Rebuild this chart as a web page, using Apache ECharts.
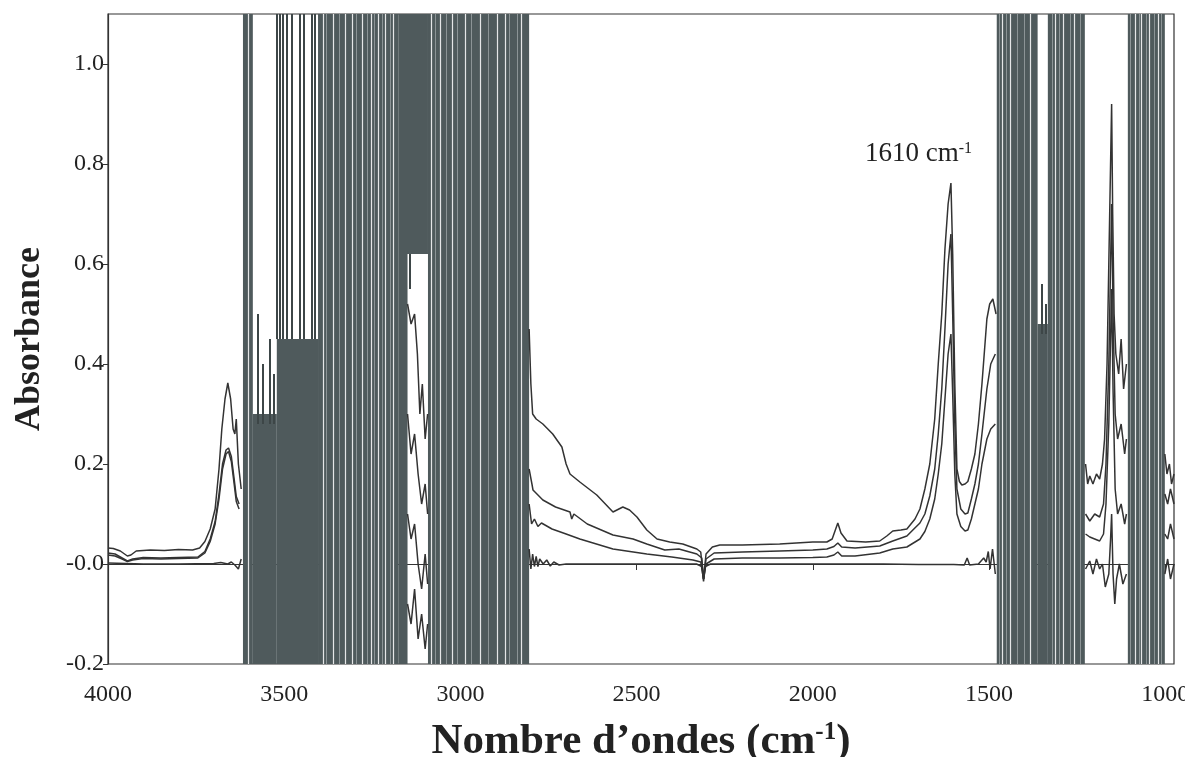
<!DOCTYPE html>
<html>
<head>
<meta charset="utf-8">
<script src="https://cdn.jsdelivr.net/npm/echarts@6/dist/echarts.min.js"></script>
<style>
  html, body { margin: 0; padding: 0; background: #fff; }
  #chart { width: 1185px; height: 757px; }
</style>
</head>
<body>
<div id="chart"></div>
<script>
// axis ticks
const xTicks = [4000, 3500, 3000, 2500, 2000, 1500, 1000];
const yTicks = [-0.2, 0, 0.2, 0.4, 0.6, 0.8, 1.0];
const yTickLabels = ['-0.2', '-0.0', '0.2', '0.4', '0.6', '0.8', '1.0'];

// saturated (noisy) regions: [wn from, wn to, absorbance low, absorbance high]
const noiseBands = [
  [3617, 3589, -0.2, 1.1],
  [3589, 3521, -0.2, 0.30],
  [3521, 3404, -0.2, 0.45],
  [3404, 3175, -0.2, 1.1],
  [3175, 3092, 0.62, 1.1],
  [3175, 3150, -0.2, 0.62],
  [3092, 2805, -0.2, 1.1],
  [1478, 1362, -0.2, 1.1],
  [1362, 1333, -0.2, 0.48],
  [1333, 1228, -0.2, 1.1],
  [1106, 1001, -0.2, 1.1]
];

// white gaps seen inside the dark bands (wn)
const whiteStreaks = [3601, 3390, 3362, 3328, 3308, 3279, 3254, 3234, 3214, 3191,
  3084, 3058, 3024, 2987, 2945, 2896, 2874, 2826,
  1461, 1441, 1384, 1313, 1288, 1257, 1086, 1067, 1044, 1021];

// fainter streaks that give the bands their texture (wn)
const faintStreaks = [3380, 3345, 3295, 3265, 3245, 3222, 3200, 3070, 3040, 3010, 2970,
  2920, 2860, 2840, 1470, 1450, 1420, 1400, 1320, 1300, 1270, 1240, 1100, 1075, 1055, 1030, 1010];

// single noise lines sticking out of the bands: [wn, from, to]
const noiseSpikes = [
  [3574, 0.28, 0.50], [3560, 0.28, 0.40], [3540, 0.28, 0.45], [3530, 0.28, 0.38],
  [3521, 0.45, 1.1], [3512, 0.45, 1.1], [3504, 0.45, 1.1], [3492, 0.45, 1.1],
  [3478, 0.45, 1.1], [3455, 0.45, 1.1], [3444, 0.45, 1.1], [3421, 0.45, 1.1],
  [3413, 0.45, 1.1], [3145, 0.55, 0.62], [1350, 0.46, 0.56], [1340, 0.46, 0.52]
];

// spectra, [wavenumber, absorbance]; null = hidden in a saturated region
const specA = [
  [4000, 0.032], [3985, 0.031], [3965, 0.026], [3945, 0.016], [3935, 0.018], [3920, 0.026],
  [3880, 0.028], [3840, 0.027], [3800, 0.029], [3760, 0.028], [3740, 0.032], [3725, 0.045],
  [3710, 0.07], [3696, 0.11], [3685, 0.19], [3677, 0.27], [3668, 0.33], [3660, 0.362],
  [3652, 0.33], [3645, 0.27], [3640, 0.26], [3636, 0.29], [3630, 0.2], [3622, 0.15],
  null,
  [3150, 0.52], [3140, 0.48], [3130, 0.5], [3122, 0.42], [3115, 0.3], [3108, 0.36], [3100, 0.25], [3093, 0.3],
  null,
  [2805, 0.47], [2800, 0.36], [2795, 0.30], [2785, 0.29], [2766, 0.28], [2738, 0.26], [2712, 0.234],
  [2700, 0.2], [2689, 0.18], [2661, 0.164], [2613, 0.138], [2567, 0.104], [2539, 0.114], [2520, 0.108],
  [2499, 0.094], [2471, 0.068], [2442, 0.05], [2406, 0.044], [2369, 0.04], [2329, 0.03], [2318, 0.024],
  [2310, -0.03], [2303, 0.02], [2285, 0.034], [2264, 0.038], [2200, 0.038], [2094, 0.04], [2000, 0.044],
  [1960, 0.044], [1945, 0.05], [1937, 0.066], [1929, 0.082], [1920, 0.062], [1903, 0.046], [1850, 0.044],
  [1810, 0.046], [1790, 0.056], [1773, 0.066], [1750, 0.068], [1733, 0.07], [1710, 0.09], [1696, 0.11],
  [1682, 0.15], [1668, 0.2], [1654, 0.29], [1644, 0.4], [1634, 0.5], [1625, 0.63], [1616, 0.72],
  [1608, 0.762], [1603, 0.62], [1597, 0.36], [1591, 0.19], [1584, 0.165], [1577, 0.158], [1568, 0.16],
  [1560, 0.165], [1550, 0.19], [1540, 0.22], [1530, 0.28], [1520, 0.36], [1506, 0.49], [1498, 0.52],
  [1489, 0.53], [1480, 0.5],
  null,
  [1226, 0.2], [1220, 0.16], [1214, 0.176], [1205, 0.16], [1195, 0.18], [1186, 0.17], [1178, 0.2],
  [1172, 0.25], [1165, 0.4], [1160, 0.6], [1155, 0.8], [1152, 0.92], [1149, 0.7], [1145, 0.5],
  [1140, 0.42], [1132, 0.38], [1125, 0.45], [1118, 0.35], [1110, 0.4],
  null,
  [1001, 0.22], [995, 0.18], [988, 0.2], [982, 0.16], [975, 0.18]
];

const specB = [
  [4000, 0.022], [3980, 0.02], [3960, 0.012], [3945, 0.006], [3930, 0.01], [3900, 0.013],
  [3850, 0.012], [3800, 0.013], [3745, 0.014], [3725, 0.025], [3710, 0.05], [3696, 0.085],
  [3685, 0.14], [3675, 0.2], [3665, 0.228], [3658, 0.232], [3650, 0.215], [3642, 0.17],
  [3636, 0.135], [3628, 0.12],
  null,
  [3150, 0.3], [3140, 0.22], [3130, 0.26], [3120, 0.18], [3110, 0.12], [3100, 0.16], [3093, 0.1],
  null,
  [2805, 0.19], [2797, 0.16], [2794, 0.148], [2766, 0.128], [2730, 0.114], [2689, 0.104], [2684, 0.09],
  [2678, 0.1], [2640, 0.08], [2567, 0.058], [2510, 0.05], [2471, 0.04], [2420, 0.028], [2380, 0.03],
  [2329, 0.02], [2315, 0.012], [2310, -0.03], [2303, 0.01], [2280, 0.022], [2200, 0.024], [2094, 0.026],
  [2000, 0.028], [1960, 0.03], [1940, 0.035], [1929, 0.042], [1918, 0.034], [1880, 0.032], [1810, 0.036],
  [1773, 0.046], [1733, 0.056], [1696, 0.082], [1682, 0.1], [1668, 0.136], [1654, 0.19], [1644, 0.26],
  [1634, 0.35], [1625, 0.47], [1616, 0.6], [1608, 0.66], [1603, 0.5], [1597, 0.28], [1591, 0.15],
  [1580, 0.11], [1568, 0.1], [1560, 0.102], [1550, 0.13], [1540, 0.16], [1530, 0.2], [1520, 0.26],
  [1506, 0.35], [1495, 0.4], [1482, 0.42],
  null,
  [1226, 0.1], [1214, 0.086], [1200, 0.1], [1186, 0.094], [1175, 0.12], [1168, 0.2], [1160, 0.4],
  [1155, 0.6], [1152, 0.72], [1148, 0.5], [1142, 0.3], [1135, 0.25], [1125, 0.28], [1115, 0.22], [1110, 0.25],
  null,
  [1001, 0.14], [993, 0.12], [985, 0.15], [975, 0.12]
];

const specD = [
  [4000, 0.018], [3980, 0.016], [3960, 0.01], [3945, 0.005], [3930, 0.008], [3900, 0.011],
  [3850, 0.01], [3800, 0.011], [3745, 0.012], [3725, 0.022], [3710, 0.045], [3696, 0.08],
  [3685, 0.13], [3675, 0.19], [3665, 0.22], [3658, 0.225], [3650, 0.205], [3642, 0.16],
  [3636, 0.125], [3628, 0.11],
  null,
  [3150, 0.1], [3140, 0.05], [3130, 0.08], [3120, 0.0], [3110, -0.05], [3100, 0.02], [3093, -0.04],
  null,
  [2805, 0.12], [2798, 0.08], [2790, 0.09], [2780, 0.075], [2770, 0.082], [2740, 0.07], [2700, 0.06],
  [2661, 0.05], [2567, 0.03], [2471, 0.02], [2400, 0.014], [2340, 0.008], [2318, 0.004], [2310, -0.03],
  [2303, 0.0], [2280, 0.01], [2200, 0.012], [2094, 0.012], [2000, 0.013], [1960, 0.014], [1940, 0.018],
  [1929, 0.024], [1918, 0.016], [1880, 0.016], [1810, 0.022], [1773, 0.03], [1733, 0.034], [1696, 0.05],
  [1682, 0.065], [1668, 0.09], [1654, 0.13], [1644, 0.18], [1634, 0.24], [1625, 0.33], [1616, 0.42],
  [1608, 0.46], [1603, 0.34], [1597, 0.18], [1591, 0.1], [1580, 0.075], [1568, 0.066], [1560, 0.068],
  [1550, 0.09], [1540, 0.12], [1530, 0.15], [1520, 0.2], [1506, 0.25], [1495, 0.27], [1482, 0.28],
  null,
  [1226, 0.06], [1214, 0.054], [1200, 0.05], [1186, 0.046], [1175, 0.06], [1168, 0.12], [1160, 0.28],
  [1155, 0.45], [1152, 0.55], [1148, 0.35], [1142, 0.15], [1135, 0.1], [1125, 0.12], [1115, 0.08], [1110, 0.1],
  null,
  [1001, 0.06], [993, 0.05], [985, 0.08], [975, 0.05]
];

const specC = [
  [4000, 0.002], [3900, 0.0], [3800, 0.0], [3700, 0.001], [3680, 0.003], [3660, 0.0], [3650, 0.004],
  [3640, -0.002], [3630, -0.01], [3622, 0.01],
  null,
  [3150, -0.08], [3140, -0.12], [3130, -0.05], [3120, -0.15], [3110, -0.1], [3100, -0.17], [3093, -0.12],
  null,
  [2805, 0.03], [2800, -0.01], [2795, 0.02], [2790, -0.005], [2785, 0.015], [2780, -0.005], [2775, 0.01],
  [2765, 0.0], [2755, 0.008], [2745, -0.004], [2735, 0.004], [2720, -0.002], [2700, 0.0], [2500, 0.0],
  [2330, 0.0], [2315, -0.005], [2310, -0.035], [2305, -0.005], [2290, 0.0], [2094, 0.0], [1800, 0.0],
  [1700, -0.001], [1600, -0.001], [1570, -0.002], [1562, 0.012], [1555, -0.002], [1530, 0.0],
  [1515, 0.012], [1508, 0.004], [1502, 0.025], [1497, -0.01], [1490, 0.03], [1482, -0.02],
  null,
  [1226, -0.01], [1214, 0.006], [1205, -0.02], [1195, 0.01], [1186, -0.01], [1178, 0.0], [1170, -0.046],
  [1160, -0.02], [1155, 0.05], [1152, 0.1], [1148, -0.02], [1143, -0.08], [1138, -0.03], [1130, 0.0],
  [1120, -0.04], [1110, -0.02],
  null,
  [1001, -0.02], [993, 0.01], [985, -0.03], [975, 0.0]
];

const peakLabel = { wn: 1700, y: 0.82, text: '1610 cm', sup: '-1' };

const chart = echarts.init(document.getElementById('chart'), null, { renderer: 'canvas', width: 1185, height: 757 });

const serif = 'Liberation Serif';
const lineColor = '#333';
const bandColor = '#4f5a5c';

function toData(arr) {
  return arr.map(p => (p === null ? ['-', '-'] : p));
}

function specSeries(name, arr) {
  return {
    name: name,
    type: 'line',
    data: toData(arr),
    showSymbol: false,
    connectNulls: false,
    z: 4,
    lineStyle: { color: lineColor, width: 1.5 },
    animation: false
  };
}

function vLines(list) {
  return list.map(w => [{ coord: [w, -0.2] }, { coord: [w, 1.1] }]);
}

function streakSeries(name, list, color, width) {
  return {
    name: name,
    type: 'line',
    data: [],
    z: 3,
    silent: true,
    markLine: {
      silent: true,
      symbol: 'none',
      label: { show: false },
      lineStyle: { color: color, width: width, type: 'solid' },
      data: vLines(list)
    }
  };
}

const bandAreas = noiseBands.map(b => [
  { coord: [b[0], b[2]] },
  { coord: [b[1], b[3]] }
]);
const spikeLines = noiseSpikes.map(s => [
  { coord: [s[0], s[1]] }, { coord: [s[0], s[2]] }
]);

const option = {
  backgroundColor: '#fff',
  animation: false,
  grid: {
    left: 108, right: 11, top: 14, bottom: 93,
    containLabel: false,
    outerBoundsMode: 'none',
    show: true, borderColor: '#333', borderWidth: 1.2
  },
  xAxis: {
    type: 'value',
    inverse: true,
    min: 975,
    max: 4000,
    name: 'Nombre d\u2019ondes (cm{s|-1})',
    nameLocation: 'middle',
    nameGap: 56,
    nameTextStyle: {
      fontFamily: serif, fontWeight: 'bold', fontSize: 43, color: '#222',
      rich: { s: { fontFamily: serif, fontWeight: 'bold', fontSize: 25, verticalAlign: 'top', color: '#222' } }
    },
    axisLine: { lineStyle: { color: '#333', width: 1.2 } },
    axisTick: { show: true, length: 6, customValues: xTicks, lineStyle: { color: '#333' } },
    axisLabel: {
      customValues: xTicks, margin: 19,
      fontFamily: serif, fontSize: 24, color: '#222',
      formatter: v => String(v)
    },
    splitLine: { show: false }
  },
  yAxis: {
    type: 'value',
    min: -0.2,
    max: 1.1,
    name: 'Absorbance',
    nameLocation: 'middle',
    nameGap: 60,
    nameTextStyle: { fontFamily: serif, fontWeight: 'bold', fontSize: 36, color: '#222' },
    axisLine: { lineStyle: { color: '#333', width: 1.2 } },
    axisTick: { show: true, length: 5, customValues: yTicks, lineStyle: { color: '#333' } },
    axisLabel: {
      customValues: yTicks, margin: 4,
      fontFamily: serif, fontSize: 24, color: '#222',
      formatter: v => {
        const i = yTicks.findIndex(t => Math.abs(t - v) < 1e-6);
        return i >= 0 ? yTickLabels[i] : '';
      }
    },
    splitLine: { show: false }
  },
  series: [
    {
      name: 'bands',
      type: 'line',
      data: [],
      z: 2,
      silent: true,
      markArea: {
        silent: true,
        itemStyle: { color: bandColor, opacity: 1 },
        data: bandAreas
      },
      markLine: {
        silent: true,
        symbol: 'none',
        label: { show: false },
        lineStyle: { color: '#3d4647', width: 2, type: 'solid' },
        data: spikeLines
      }
    },
    streakSeries('streaks', whiteStreaks, 'rgba(255,255,255,0.85)', 1.2),
    streakSeries('faint', faintStreaks, 'rgba(220,225,225,0.55)', 0.8),
    specSeries('A', specA),
    specSeries('B', specB),
    specSeries('D', specD),
    Object.assign(specSeries('C', specC), {
      markPoint: {
        silent: true,
        symbol: 'circle',
        symbolSize: 0,
        data: [{ coord: [peakLabel.wn, peakLabel.y] }],
        label: {
          show: true,
          position: 'inside',
          formatter: '{a|' + peakLabel.text + '}{s|' + peakLabel.sup + '}',
          rich: {
            a: { fontFamily: serif, fontSize: 27, color: '#222' },
            s: { fontFamily: serif, fontSize: 16, color: '#222', verticalAlign: 'top' }
          }
        }
      }
    })
  ]
};

chart.setOption(option);
</script>
</body>
</html>
